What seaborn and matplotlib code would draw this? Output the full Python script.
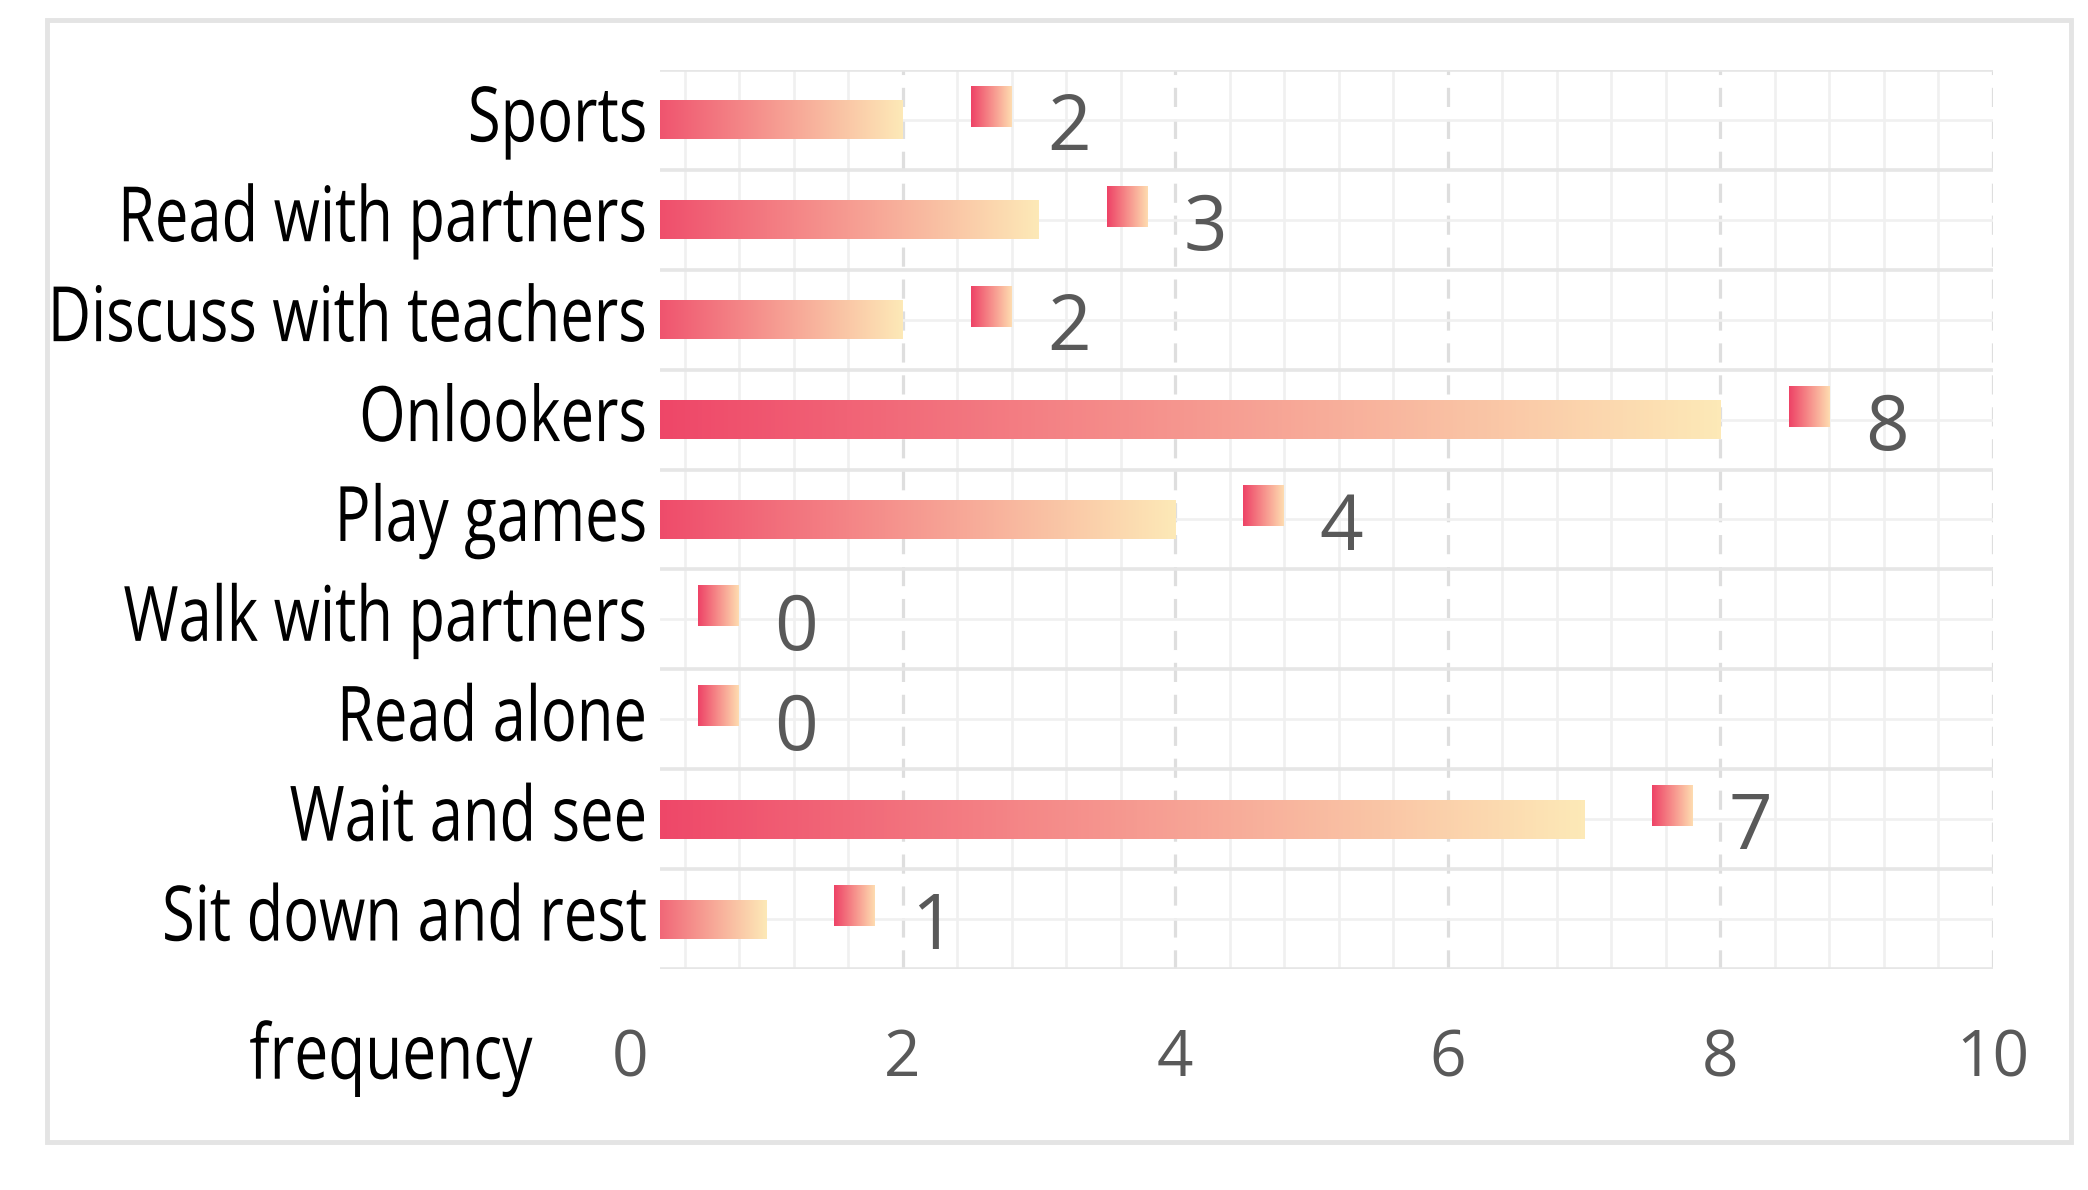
import numpy as np
import pandas as pd
import seaborn as sns
import matplotlib.pyplot as plt
from matplotlib.colors import LinearSegmentedColormap
from matplotlib.patches import Rectangle
from matplotlib.patheffects import AbstractPathEffect
from matplotlib.transforms import Affine2D, ScaledTranslation

categories = ['Sports', 'Read with partners', 'Discuss with teachers', 'Onlookers',
              'Play games', 'Walk with partners', 'Read alone', 'Wait and see',
              'Sit down and rest']
frequency = [2, 3, 2, 8, 4, 0, 0, 7, 1]
x_ticks = [2, 4, 6, 8, 10]

df = pd.DataFrame({'activity': categories, 'frequency': frequency})


class Tall(AbstractPathEffect):
    """draw text taller (condensed look), baseline stays put"""
    def __init__(self, sy):
        super().__init__()
        self.sy = sy

    def draw_path(self, renderer, gc, tpath, affine, rgbFace=None):
        renderer.draw_path(gc, tpath, Affine2D().scale(1, self.sy) + affine, rgbFace)


sns.set_theme(style='white')
plt.rcParams['font.family'] = ['Open Sans', 'DejaVu Sans']

fig = plt.figure(figsize=(20.88, 11.9), dpi=100)
ax = fig.add_axes([0.3161, 0.1857, 0.6384, 0.7555])

sns.barplot(data=df, x='frequency', y='activity', orient='h', width=0.39, ax=ax)

bar_cmap = LinearSegmentedColormap.from_list('bar', ['#ee4266', '#fde9b7'])
box_cmap = LinearSegmentedColormap.from_list('box', ['#ee4266', '#fedcb0'])
grad = np.linspace(0, 1, 256).reshape(1, -1)

# gradient fill on every bar, plus small box and value label
for i, (patch, val) in enumerate(zip(ax.patches, frequency)):
    patch.set_visible(False)
    y0, h = patch.get_y(), patch.get_height()
    if val > 0:
        ax.imshow(grad, cmap=bar_cmap, aspect='auto', zorder=3,
                  extent=[0, val, y0 + h, y0])
    ax.imshow(grad, cmap=box_cmap, aspect='auto', zorder=3,
              extent=[val + 0.5, val + 0.8, i + 0.07, i - 0.34])
    ax.text(val + 1.22, i + 0.10, str(val), ha='center', va='center',
            fontsize=55, color='#595959')

ax.set_xlim(0.22, 10)
ax.set_ylim(8.5, -0.5)
ax.set_aspect('auto')

ax.set_xticks(x_ticks)
ax.set_xticklabels([str(t) for t in x_ticks])
ax.set_xticks(np.round(np.arange(0.4, 10, 0.4), 1), minor=True)
ax.set_yticks(np.arange(-0.5, 9, 1), minor=True)
ax.set_axisbelow(True)
ax.grid(which='major', axis='x', color='#dedede', linestyle=(0, (6, 4)), lw=2.3)
ax.grid(which='minor', axis='x', color='#f0f0f0', lw=1.9)
ax.grid(which='major', axis='y', color='#f0f0f0', lw=1.9)
ax.grid(which='minor', axis='y', color='#e6e6e6', lw=2.6)
ax.tick_params(which='both', length=0)
ax.tick_params(axis='y', pad=9, labelsize=43, labelcolor='black')
ax.tick_params(axis='x', pad=42, labelsize=46, labelcolor='#595959')
for s in ax.spines.values():
    s.set_visible(False)

lift = ScaledTranslation(0, 1.1 / 72, fig.dpi_scale_trans)
for lbl in ax.get_yticklabels():
    lbl.set_path_effects([Tall(1.28)])
    lbl.set_transform(lbl.get_transform() + lift)

ax.set_xlabel('')
ax.set_ylabel('')
ax.text(-0.096, -0.122, 'frequency', transform=ax.transAxes, ha='right',
        va='baseline', fontsize=43.5, color='black', path_effects=[Tall(1.266)])
ax.annotate('0', xy=(0, 0), xycoords=('data', 'axes fraction'), xytext=(0, -42),
            textcoords='offset points', ha='center', va='top', fontsize=46,
            color='#595959', annotation_clip=False)

fig.patches.append(Rectangle((0.0225, 0.0403), 0.9693, 0.9429, transform=fig.transFigure,
                             fill=False, edgecolor='#e4e4e4', lw=3.5))

fig.savefig('out.png', dpi=100)
